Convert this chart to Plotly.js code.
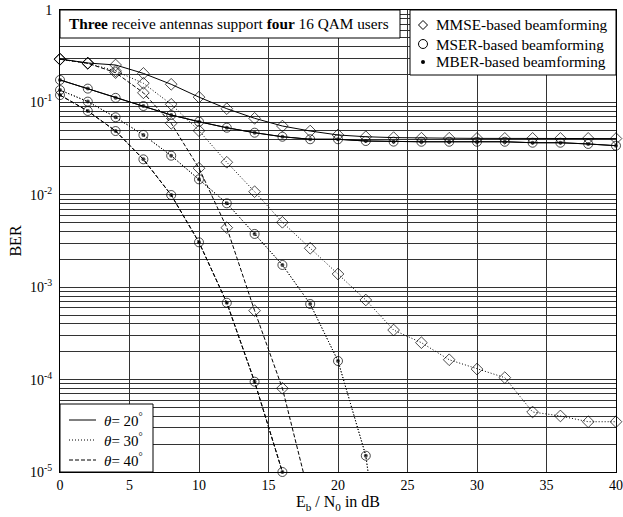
<!DOCTYPE html>
<html>
<head>
<meta charset="utf-8">
<script src="https://cdn.plot.ly/plotly-3.0.1.min.js"></script>
<style>html,body{margin:0;padding:0;background:#fff;}#chart{width:623px;height:517px;}</style>
</head>
<body>
<div id="chart"></div>
<script>
// Eb/N0 in dB
const snr = [0,2,4,6,8,10,12,14,16,18,20,22,24,26,28,30,32,34,36,38,40];

// theta = 20 deg
const mmse20 = [0.295,0.267,0.254,0.206,0.157,0.114,0.0855,0.0673,0.0555,0.049,0.0444,0.0425,0.0416,0.041,0.041,0.0408,0.0408,0.0408,0.0408,0.0408,0.0406];
const mser20 = [0.175,0.141,0.112,0.0914,0.073,0.0618,0.0532,0.047,0.0425,0.0399,0.0399,0.0382,0.0376,0.0375,0.0375,0.0375,0.0375,0.0366,0.0366,0.0355,0.034];
const mber20 = [0.175,0.141,0.112,0.0914,0.073,0.0618,0.0532,0.047,0.0425,0.0399,0.0399,0.0382,0.0376,0.0375,0.0375,0.0375,0.0375,0.0366,0.0366,0.0355,0.034];

// theta = 30 deg
const mmse30 = [0.293,0.265,0.219,0.161,0.0954,0.0494,0.0225,0.0108,0.00504,0.00264,0.00139,7.27e-4,3.44e-4,2.51e-4,1.64e-4,1.30e-4,1.05e-4,4.46e-5,4.04e-5,3.5e-5,3.5e-5];
const mser30 = [0.136,0.102,0.069,0.0444,0.0265,0.0147,0.00809,0.00377,0.00174,6.58e-4,1.59e-4,1.5e-5,1e-7];
const mber30 = [0.136,0.102,0.069,0.0444,0.0265,0.0147,0.00809,0.00377,0.00174,6.58e-4,1.59e-4,1.5e-5,1e-7];

// theta = 40 deg
const mmse40 = [0.293,0.265,0.21,0.127,0.0594,0.0194,0.00441,5.57e-4,8.05e-5,5e-6];
const mser40 = [0.12,0.0807,0.049,0.0242,0.00995,0.00306,6.79e-4,9.49e-5,1.0e-5];
const mber40 = [0.12,0.0807,0.049,0.0242,0.00995,0.00306,6.79e-4,9.49e-5,1.0e-5];

const xTicks = [0,5,10,15,20,25,30,35,40];
const yTickVals = [1e-5,1e-4,1e-3,1e-2,1e-1,1];
const yTickText = ['10<sup>-5</sup>','10<sup>-4</sup>','10<sup>-3</sup>','10<sup>-2</sup>','10<sup>-1</sup>','1'];

const methodLabels = ['MMSE-based beamforming','MSER-based beamforming','MBER-based beamforming'];
const angleLabels = ['<i>θ</i>= 20<sup>°</sup>','<i>θ</i>= 30<sup>°</sup>','<i>θ</i>= 40<sup>°</sup>'];

const dashes = {20:'solid', 30:'1px,2px', 40:'4px,2px'};
const FONT = 'Liberation Serif, Times New Roman, serif';

function curve(y, dash, kind){
  const xs = snr.slice(0, y.length);
  const sizes = y.map(v => v < 9.9e-6 ? 0 : (kind==='mber' ? 4 : 9));
  let marker;
  if (kind==='mmse') marker = {symbol:'diamond-open', size:sizes, color:'#000', line:{width:1,color:'#000'}};
  else if (kind==='mser') marker = {symbol:'circle-open', size:sizes, color:'#000', line:{width:1,color:'#000'}};
  else marker = {symbol:'circle', size:sizes, color:'#000', line:{width:0}};
  return {x:xs, y:y, type:'scatter', mode:'lines+markers', cliponaxis:false,
    line:{color:'#000', width:1, dash:dash}, marker:marker, showlegend:false, hoverinfo:'skip'};
}

const traces = [
  curve(mmse20, dashes[20], 'mmse'), curve(mser20, dashes[20], 'mser'), curve(mber20, dashes[20], 'mber'),
  curve(mmse30, dashes[30], 'mmse'), curve(mser30, dashes[30], 'mser'), curve(mber30, dashes[30], 'mber'),
  curve(mmse40, dashes[40], 'mmse'), curve(mser40, dashes[40], 'mser'), curve(mber40, dashes[40], 'mber')
];

// minor log grid positions
const minorVals = [];
for (let d=-5; d<0; d++) for (let k=2; k<=9; k++) minorVals.push(k*Math.pow(10,d));

// plot area in px: left 60, right 616, top 10, bottom 472
const W = 556, H = 462;
const px = v => v / W;           // px offset -> paper x
const py = v => 1 - v / H;       // px offset from top -> paper y

const shapes = [];
const annotations = [];
// title box
shapes.push({type:'rect', xref:'paper', yref:'paper', x0:0, x1:px(340), y0:py(28), y1:1, fillcolor:'#fff', line:{color:'#000', width:1}, layer:'above'});
annotations.push({xref:'paper', yref:'paper', x:px(7), y:py(14), xanchor:'left', yanchor:'middle', showarrow:false,
  text:'<b>Three</b> receive antennas support <b>four</b> 16 QAM users', font:{family:FONT, size:15.3, color:'#000'}});
// method legend box
shapes.push({type:'rect', xref:'paper', yref:'paper', x0:px(350), x1:1, y0:py(65), y1:1, fillcolor:'#fff', line:{color:'#000', width:1}, layer:'above'});
const rowY = [15, 34, 52];
const symX = 363;
// diamond
shapes.push({type:'path', xref:'paper', yref:'paper', layer:'above', line:{color:'#000', width:1},
  path:`M ${px(symX-4.5)} ${py(rowY[0])} L ${px(symX)} ${py(rowY[0]-4.5)} L ${px(symX+4.5)} ${py(rowY[0])} L ${px(symX)} ${py(rowY[0]+4.5)} Z`});
// open circle
shapes.push({type:'circle', xref:'paper', yref:'paper', layer:'above', line:{color:'#000', width:1},
  x0:px(symX-4.5), x1:px(symX+4.5), y0:py(rowY[1]+4.5), y1:py(rowY[1]-4.5)});
// dot
shapes.push({type:'circle', xref:'paper', yref:'paper', layer:'above', line:{color:'#000', width:0}, fillcolor:'#000',
  x0:px(symX-2), x1:px(symX+2), y0:py(rowY[2]+2), y1:py(rowY[2]-2)});
methodLabels.forEach((t,i)=>annotations.push({xref:'paper', yref:'paper', x:px(374), y:py(rowY[i]), xanchor:'left', yanchor:'middle',
  showarrow:false, text:t, font:{family:FONT, size:15.3, color:'#000'}}));
// angle legend box
shapes.push({type:'rect', xref:'paper', yref:'paper', x0:0, x1:px(93), y0:0, y1:py(394), fillcolor:'#fff', line:{color:'#000', width:1}, layer:'above'});
const angRowY = [410, 430, 450];
['solid','1px,2px','4px,2px'].forEach((d,i)=>{
  shapes.push({type:'line', xref:'paper', yref:'paper', layer:'above', x0:px(9), x1:px(36), y0:py(angRowY[i]), y1:py(angRowY[i]), line:{color:'#000', width:1, dash:d}});
  annotations.push({xref:'paper', yref:'paper', x:px(42), y:py(angRowY[i]), xanchor:'left', yanchor:'middle', showarrow:false,
    text:angleLabels[i], font:{family:FONT, size:15, color:'#000'}});
});

const layout = {
  width:623, height:517,
  margin:{l:60, r:7, t:10, b:45},
  paper_bgcolor:'#fff', plot_bgcolor:'#fff',
  font:{family:FONT, size:14, color:'#000'},
  xaxis:{range:[0,40], tickmode:'array', tickvals:xTicks, ticks:'', showgrid:true, gridcolor:'#333', gridwidth:1,
    zeroline:false, showline:true, linecolor:'#000', linewidth:1, mirror:true,
    tickfont:{family:FONT, size:14}, title:{text:'E<sub>b</sub> / N<sub>0</sub> in dB', font:{family:FONT, size:16}, standoff:4}},
  yaxis:{type:'log', range:[-5,0], tickmode:'array', tickvals:yTickVals, ticktext:yTickText, ticks:'', ticklabelstandoff:4,
    showgrid:true, gridcolor:'#333', gridwidth:1, zeroline:false, showline:true, linecolor:'#000', linewidth:1, mirror:true,
    minor:{tickmode:'array', tickvals:minorVals, showgrid:true, gridcolor:'#333', gridwidth:1, ticks:''},
    tickfont:{family:FONT, size:14}, title:{text:'BER', font:{family:FONT, size:16}, standoff:4}},
  shapes:shapes, annotations:annotations, showlegend:false
};

Plotly.newPlot('chart', traces, layout, {staticPlot:true, displayModeBar:false});
</script>
</body>
</html>
